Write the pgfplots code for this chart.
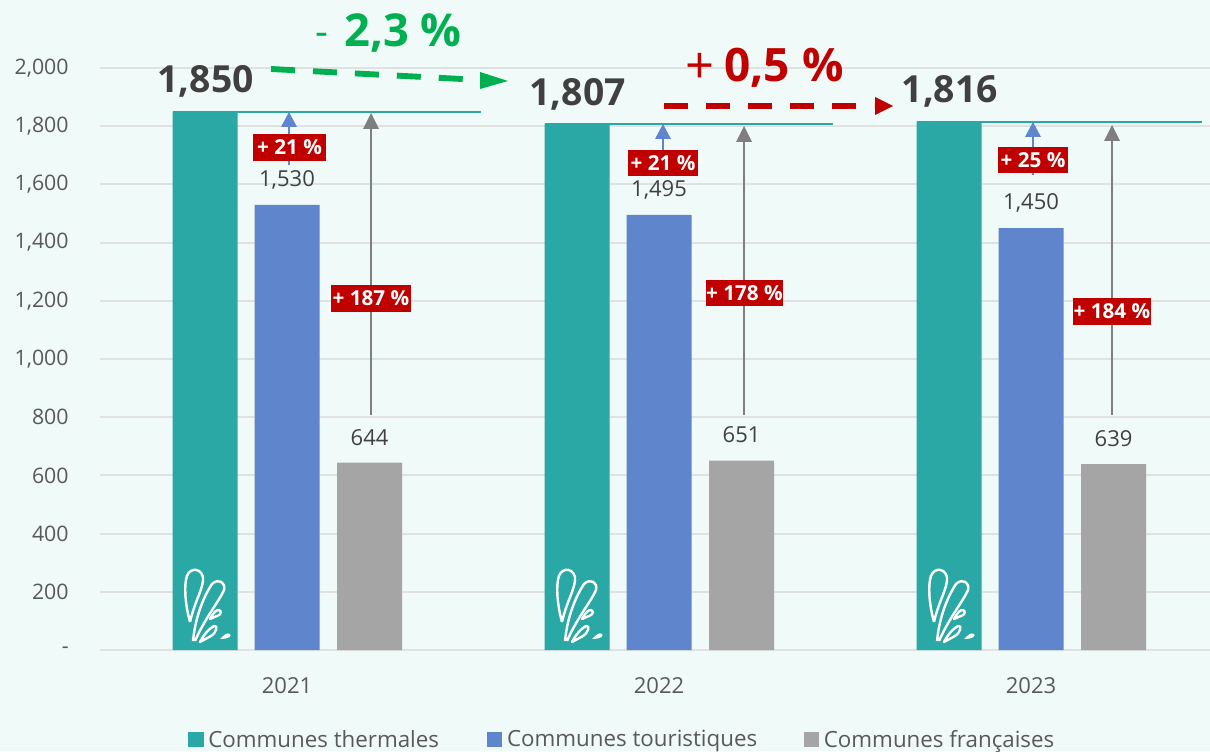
\documentclass[border=0pt]{standalone}
\usepackage{pgfplots}
\pgfplotsset{compat=1.18}
\usepackage{fontspec}
\setmainfont{Open Sans}
\definecolor{bg}{HTML}{F0FAF8}
\definecolor{teal1}{HTML}{2AA8A5}
\definecolor{blue1}{HTML}{5F86CC}
\definecolor{gray1}{HTML}{A5A5A5}
\definecolor{arrowgray}{HTML}{7F7F7F}
\definecolor{red1}{HTML}{C00000}
\definecolor{green1}{HTML}{00B050}
\definecolor{txt}{HTML}{404040}
\definecolor{tick}{HTML}{595959}
\definecolor{gridc}{HTML}{E0E2E2}
\newcommand{\splash}[1]{%
 \begin{scope}[xshift=#1*.75pt,white,line width=1.8pt,line join=round]
  \draw (190,622) .. controls (184,600) and (185,585) .. (186,580) .. controls (187,568) and (200,566) .. (203,577) .. controls (204,588) and (195,600) .. (190,622);
  \draw (193,641) .. controls (196,610) and (208,590) .. (212,584) .. controls (218,578) and (226,582) .. (224,590) .. controls (220,600) and (205,618) .. (195,641);
  \draw (210,619) .. controls (214,612) and (216,610) .. (219,610) .. controls (222,611) and (221,615) .. (217,616) -- cycle;
  \draw (200,642) .. controls (204,634) and (210,628) .. (214,626) .. controls (218,625) and (217,632) .. (211,636) -- cycle;
  \fill (220,639) .. controls (224,635) and (227,632) .. (230,634) .. controls (232,636) and (229,639) .. (220,639) -- cycle;
 \end{scope}}
\newcommand{\redbox}[5]{\node[fill=red1,text=white,font=\fontsize{15.5}{15.5}\selectfont\bfseries,inner sep=0pt,minimum width=#3*.75pt,minimum height=#4*.75pt] at (#1,#2) {#5};}
\begin{document}
\begin{tikzpicture}
\fill[bg] (0,0) rectangle (907.5pt,563.25pt);
\path[use as bounding box] (0,0) rectangle (907.5pt,563.25pt);
\begin{axis}[
 at={(75pt,75.75pt)},anchor=south west,
 width=832.5pt,height=436.5pt,scale only axis,
 ybar,bar width=48.75pt,
 xmin=-0.5027,xmax=2.481,ymin=0,ymax=2000,
 clip=false,
 axis x line=bottom,axis y line=left,
 axis line style={-},
 y axis line style={draw=none},
 x axis line style={draw=gridc,line width=1.6pt},
 ymajorgrids,grid style={gridc,line width=1.4pt},
 major tick length=0pt,
 xtick={0,1,2},xticklabels={2021,2022,2023},
 ytick={0,200,400,600,800,1000,1200,1400,1600,1800,2000},
 yticklabels={-,200,400,600,800,{1,000},{1,200},{1,400},{1,600},{1,800},{2,000}},
 yticklabel style={font=\fontsize{16}{16}\selectfont,text=tick,xshift=-20pt},
 xticklabel style={font=\fontsize{16.5}{16.5}\selectfont,text=tick,yshift=-17pt},
 nodes near coords={\pgfmathprintnumber[1000 sep={,},assume math mode=true]{\pgfplotspointmeta}},
 legend columns=3,
 legend style={at={(0.0793,-0.171)},anchor=south west,draw=none,fill=none,inner sep=0pt,
  font=\fontsize{16.75}{16.75}\selectfont,text=tick,
  nodes={inner sep=0pt},
  /tikz/column 1/.style={column sep=3.5pt},
  /tikz/column 2/.style={column sep=36pt},
  /tikz/column 3/.style={column sep=3.5pt},
  /tikz/column 4/.style={column sep=35pt},
  /tikz/column 5/.style={column sep=3.5pt}},
 legend image code/.code={\fill[#1] (0pt,-5.5pt) rectangle (11.5pt,6pt);},
]
\addplot[fill=teal1,draw=none,bar shift=-61.5pt,
 every node near coord/.style={font=\fontsize{28}{28}\selectfont\bfseries,text=txt,yshift=7pt,xshift=-61pt}]
 coordinates {(0,1850)(1,1807)(2,1816)};
\addlegendentry{Communes thermales}
\addplot[fill=blue1,draw=none,bar shift=0pt,
 every node near coord/.style={font=\fontsize{16.5}{16.5}\selectfont,text=txt,yshift=8pt}]
 coordinates {(0,1530)(1,1495)(2,1450)};
\addlegendentry{Communes touristiques}
\addplot[fill=gray1,draw=none,bar shift=61.9pt,
 every node near coord/.style={font=\fontsize{16.5}{16.5}\selectfont,text=txt,yshift=9.5pt,xshift=61.9pt}]
 coordinates {(0,644)(1,651)(2,639)};
\addlegendentry{Communes françaises}
\addplot[sharp plot,no markers,nodes near coords={},draw=teal1,fill=none,line width=1.3pt,forget plot] coordinates {(-0.3056,1850)(0.5215,1850)};
\addplot[sharp plot,no markers,nodes near coords={},draw=teal1,fill=none,line width=1.3pt,forget plot] coordinates {(0.6935,1807)(1.4677,1807)};
\addplot[sharp plot,no markers,nodes near coords={},draw=teal1,fill=none,line width=1.5pt,forget plot] coordinates {(1.6935,1816)(2.4597,1816)};
\end{axis}
\begin{scope}[x=.75pt,y=-.75pt,yshift=563.25pt]
 \splash{0}\splash{372}\splash{744}
 % thin arrows
 \draw[blue1,line width=1.1pt] (289,127)--(289,165);
 \fill[blue1] (289,112)--(297,127)--(281,127)--cycle;
 \draw[arrowgray,line width=1.1pt] (371,128)--(371,415);
 \fill[arrowgray] (371,113)--(379,129)--(363,129)--cycle;
 \draw[blue1,line width=1.1pt] (663,139)--(663,175);
 \fill[blue1] (663,124)--(671,139)--(655,139)--cycle;
 \draw[arrowgray,line width=1.1pt] (744,142)--(744,415);
 \fill[arrowgray] (744,126)--(752,142)--(736,142)--cycle;
 \draw[blue1,line width=1.1pt] (1033,137)--(1033,175);
 \fill[blue1] (1033,122)--(1041,137)--(1025,137)--cycle;
 \draw[arrowgray,line width=1.1pt] (1112,141)--(1112,415);
 \fill[arrowgray] (1112,125)--(1120,141)--(1104,141)--cycle;
 % red labels
 \redbox{289.5}{147.5}{73}{27}{+ 21 \%}
 \redbox{371}{298.5}{80}{27}{+ 187 \%}
 \redbox{663}{163}{70}{26}{+ 21 \%}
 \redbox{744.5}{293}{77}{26}{+ 178 \%}
 \redbox{1033}{160}{70}{26}{+ 25 \%}
 \redbox{1112}{311.5}{78}{27}{+ 184 \%}
 % trend arrows
 \draw[green1,line width=4.4pt,dash pattern=on 18pt off 13.5pt] (271,69)--(490,80.5);
 \fill[green1] (508,81)--(480,72)--(480,89)--cycle;
 \draw[red1,line width=4.4pt,dash pattern=on 18pt off 13.5pt] (664,106)--(874,106);
 \fill[red1] (893,106)--(875,97)--(875,115)--cycle;
 % trend labels
 \node[anchor=base west,inner sep=0pt,text=green1,font=\fontsize{30}{30}\selectfont] at (315,46) {-};
 \node[anchor=base west,inner sep=0pt,text=green1,font=\fontsize{34}{34}\selectfont\bfseries] at (344,47) {2,3 \%};
 \node[anchor=base west,inner sep=0pt,text=red1,font=\fontsize{38}{38}\selectfont] at (685,84) {+};
 \node[anchor=base west,inner sep=0pt,text=red1,font=\fontsize{34.5}{34.5}\selectfont\bfseries] at (724,82) {0,5 \%};
\end{scope}
\end{tikzpicture}
\end{document}
